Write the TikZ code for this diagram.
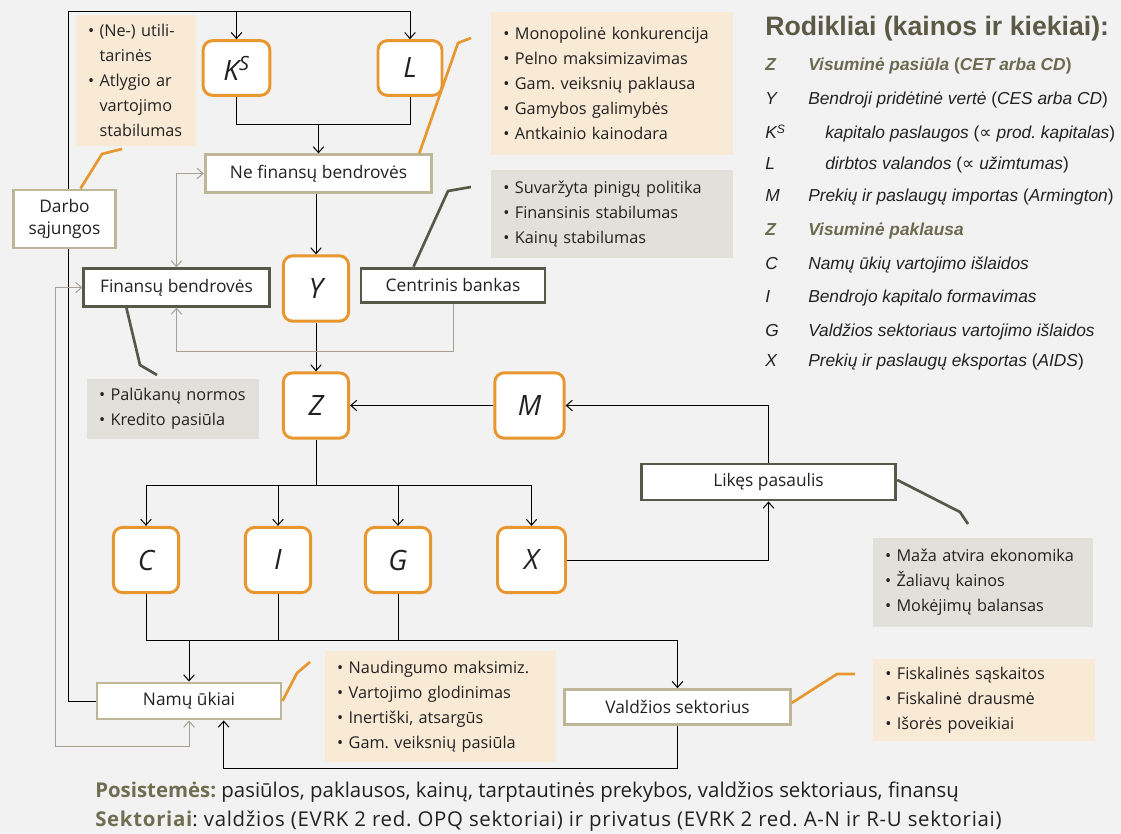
\documentclass[tikz,border=0pt]{standalone}
\usepackage{fontspec}
\setmainfont{Open Sans}
\newfontfamily\legendfont{Liberation Sans}
\newfontfamily\propfont{DejaVu Sans}
\usetikzlibrary{positioning}
\usetikzlibrary{arrows.meta}
\definecolor{bgcol}{HTML}{F2F2F2}
\definecolor{boxorange}{HTML}{E8972F}
\definecolor{notebeige}{HTML}{F9EAD6}
\definecolor{notegray}{HTML}{E1E0DA}
\definecolor{oliveline}{HTML}{BDB797}
\definecolor{darkline}{HTML}{58584A}
\definecolor{graylink}{HTML}{A59F94}
\definecolor{legendolive}{HTML}{5A5A46}
\definecolor{zolive}{HTML}{6B6B52}
\definecolor{postcol}{HTML}{6E6E52}
\definecolor{ink}{HTML}{222222}
\newcommand{\bul}{\textbullet\ }
\newcommand{\hang}{\phantom{\textbullet\ }}
\frenchspacing

\begin{document}
\begin{tikzpicture}[x=0.75pt,y=-0.75pt,text=ink,>={Straight Barb[length=4.5pt,width=8pt]},
  var/.style={draw=boxorange,line width=2.2pt,rounded corners=7pt,fill=white,minimum width=49pt,minimum height=49pt,inner sep=0pt,font=\fontsize{21}{24}\selectfont\itshape},
  sector/.style={draw=oliveline,line width=2.2pt,fill=white,minimum height=27pt,inner sep=0pt,font=\fontsize{13}{15}\selectfont},
  actor/.style={sector,draw=darkline},
  note/.style={fill=#1,align=left,inner xsep=9pt,inner ysep=0pt,font=\fontsize{12.2}{18.75}\selectfont},
  link/.style={->,line width=0.75pt},
  line/.style={line width=0.75pt},
  soft/.style={->,line width=0.75pt,draw=graylink},
  callout/.style={line width=2pt},
  leg/.style={anchor=base west,inner sep=0pt,font=\legendfont\itshape\fontsize{13}{15}\selectfont}]

\fill[bgcol] (0,0) rectangle (1121,834);

% notes
\node[note=notebeige,text width=72pt,minimum height=98pt] (nlabour) at (136,80.5)
  {\bul(Ne-) utili-\\\hang tarinės\\\bul Atlygio ar\\\hang vartojimo\\\hang stabilumas};
\node[note=notebeige,text width=163pt,minimum height=107pt] (nfirms) at (612,83.5)
  {\bul Monopolinė konkurencija\\\bul Pelno maksimizavimas\\\bul Gam. veiksnių paklausa\\\bul Gamybos galimybės\\\bul Antkainio kainodara};
\node[note=notegray,text width=163pt,minimum height=66pt] (nbank) at (612,214)
  {\bul Suvaržyta pinigų politika\\\bul Finansinis stabilumas\\\bul Kainų stabilumas};
\node[note=notegray,text width=111pt,minimum height=45pt] (nfin) at (173,409)
  {\bul Palūkanų normos\\\bul Kredito pasiūla};
\node[note=notegray,text width=147pt,minimum height=67pt] (nworld) at (983,582.5)
  {\bul Maža atvira ekonomika\\\bul Žaliavų kainos\\\bul Mokėjimų balansas};
\node[note=notebeige,text width=155pt,minimum height=83pt] (nhouse) at (440.5,706.5)
  {\bul Naudingumo maksimiz.\\\bul Vartojimo glodinimas\\\bul Inertiški, atsargūs\\\bul Gam. veiksnių pasiūla};
\node[note=notebeige,text width=148pt,minimum height=61.5pt] (ngov) at (984,700)
  {\bul Fiskalinės sąskaitos\\\bul Fiskalinė drausmė\\\bul Išorės poveikiai};

% variables
\node[var,minimum width=50pt,minimum height=41pt] (K) at (236.5,68) {K\textsuperscript{S}};
\node[var,minimum width=48pt,minimum height=41pt] (L) at (410,68) {L};
\node[var] (Y) at (316,288.5) {Y};
\node[var] (Z) at (316,405.5) {Z};
\node[var,minimum width=52pt] (M) at (529.5,405.5) {M};
\node[var] (C) at (146,560) {C};
\node[var] (I) at (278,560) {I};
\node[var] (G) at (398,560) {G};
\node[var,minimum width=51pt] (X) at (531.5,560) {X};

% sectors
\node[sector,minimum width=170pt,minimum height=28pt] (nefin) at (318.5,173.5) {Ne finansų bendrovės};
\node[actor,minimum width=139pt,minimum height=28pt] (fin) at (176.5,287.5) {Finansų bendrovės};
\node[actor,minimum width=138pt,minimum height=26pt] (cb) at (453,285.5) {Centrinis bankas};
\node[actor,minimum width=191pt] (likes) at (768.5,482) {Likęs pasaulis};
\node[sector,minimum width=138pt] (namu) at (189,701) {Namų ūkiai};
\node[sector,minimum width=169pt,minimum height=26pt] (vald) at (677.5,707) {Valdžios sektorius};

% production side
\coordinate (top) at (68,12);
\draw[link] (namu.west) -| (top) -| (L.north);
\draw[link] (K.north |- top) -- (K.north);
\draw[line] (K.south) |- (L.south |- 0,125) -- (L.south);
\draw[link] (nefin.north |- 0,125) -- (nefin.north);
\draw[link] (Y.north |- nefin.south) -- (Y.north);
\draw[link] (Y.south) -- (Z.north);
\draw[link] (M.west) -- (Z.east);
\draw[link] (likes.north) |- (M.east);
\draw[link] (X.east) -| (likes.south);

% demand side
\draw[line] (Z.south) -- (Z.south |- 0,485);
\draw[line] (C.north |- 0,485) -- (X.north |- 0,485);
\foreach \v in {C,I,G,X}
  \draw[link] (\v.north |- 0,485) -- (\v.north);
\foreach \v in {C,I,G}
  \draw[line] (\v.south) -- (\v.south |- 0,640);
\draw[line] (C.south |- 0,640) -- (vald.north |- 0,640);
\draw[link] (namu.north |- 0,640) -- (namu.north);
\draw[link] (vald.north |- 0,640) -- (vald.north);
\draw[link] (vald.south) -- ++(0,43) -| ([xshift=26pt]namu.south);

% financial links
\draw[soft,<->] (nefin.west) -| (fin.north);
\draw[soft] (cb.south) -- ++(0,47) -| (fin.south);
\draw[soft,<->] (fin.west) -| (55,746) -| (namu.south);

\node[sector,minimum width=77pt,minimum height=43.5pt,align=center,font=\fontsize{13}{16.5}\selectfont] (darbo) at (64.5,219) {Darbo\\sąjungos};

% callouts
\draw[callout,boxorange] ([xshift=12pt]darbo.north) -- (102,154) -- (122,149);
\draw[callout,boxorange] ([xshift=-10.5pt]nefin.north east) -- (458,43) -- (471,38);
\draw[callout,darkline] ([xshift=40.5pt]cb.north west) -- (448,191) -- (471,187);
\draw[callout,darkline] ([xshift=33pt]fin.south west) -- (140,365) -- (157,375);
\draw[callout,darkline] ([yshift=1.5pt]likes.east) -- (960,512) -- (968,524);
\draw[callout,boxorange] ([yshift=3pt]vald.east) -- (837,674) -- (855,674);
\draw[callout,boxorange] (namu.east) -- (297,673) -- (310,662);

% legend
\node[anchor=base west,inner sep=0pt,text=legendolive,font=\legendfont\bfseries\fontsize{20}{24}\selectfont] (legtitle) at (765,36) {Rodikliai (kainos ir kiekiai):};
\node[leg,text=zolive,font=\legendfont\bfseries\itshape\fontsize{13}{15}\selectfont] at (765,71) {Z};
\node[leg,text=zolive,font=\legendfont\bfseries\itshape\fontsize{13}{15}\selectfont] at (808,71) {Visuminė pasiūla \textup{(}CET arba CD\textup{)}};
\node[leg] at (765,105) {Y};
\node[leg] at (808,105) {Bendroji pridėtinė vertė \textup{(}CES arba CD\textup{)}};
\node[leg] at (765,139) {K\textsuperscript{S}};
\node[leg] at (825,139) {kapitalo paslaugos \textup{(}{\propfont\upshape ∝} prod. kapitalas\textup{)}};
\node[leg] at (765,170) {L};
\node[leg] at (825,170) {dirbtos valandos \textup{(}{\propfont\upshape ∝} užimtumas\textup{)}};
\node[leg] at (765,202) {M};
\node[leg] at (808,202) {Prekių ir paslaugų importas \textup{(}Armington\textup{)}};
\node[leg,text=zolive,font=\legendfont\bfseries\itshape\fontsize{13}{15}\selectfont] at (765,236) {Z};
\node[leg,text=zolive,font=\legendfont\bfseries\itshape\fontsize{13}{15}\selectfont] at (808,236) {Visuminė paklausa};
\node[leg] at (765,270) {C};
\node[leg] at (808,270) {Namų ūkių vartojimo išlaidos};
\node[leg] at (765,303) {I};
\node[leg] at (808,303) {Bendrojo kapitalo formavimas};
\node[leg] at (765,336) {G};
\node[leg] at (808,336) {Valdžios sektoriaus vartojimo išlaidos};
\node[leg] at (765,367) {X};
\node[leg] at (808,367) {Prekių ir paslaugų eksportas \textup{(}AIDS\textup{)}};

% footer
\node[anchor=base west,inner sep=0pt,font=\fontsize{15.3}{18}\selectfont] (subsys) at (95,797)
  {\textcolor{postcol}{\bfseries Posistemės:} pasiūlos, paklausos, kainų, tarptautinės prekybos, valdžios sektoriaus, finansų};
\node[anchor=base west,inner sep=0pt,font=\fontsize{15.3}{18}\selectfont\addfontfeature{LetterSpace=3.5}] (sectors) at (95,826)
  {\textcolor{postcol}{\bfseries Sektoriai}: valdžios (EVRK 2 red. OPQ sektoriai) ir privatus (EVRK 2 red. A-N ir R-U sektoriai)};
\end{tikzpicture}
\end{document}
